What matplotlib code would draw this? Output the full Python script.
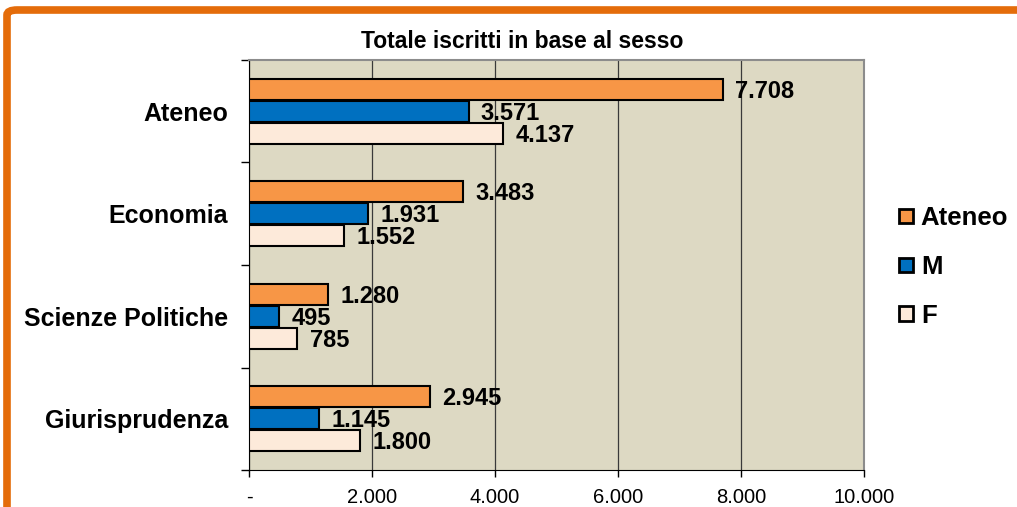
import numpy as np
import matplotlib.pyplot as plt
from matplotlib.patches import FancyBboxPatch
from matplotlib.ticker import FuncFormatter

categories = ['Ateneo', 'Economia', 'Scienze Politiche', 'Giurisprudenza']
series = ['Ateneo', 'M', 'F']
ateneo = [7708, 3483, 1280, 2945]
m_vals = [3571, 1931, 495, 1145]
f_vals = [4137, 1552, 785, 1800]
xticks = [0, 2000, 4000, 6000, 8000, 10000]

colors = ['#F79646', '#0070C0', '#FDEADA']

plt.rcParams['font.family'] = ['Liberation Sans', 'DejaVu Sans']

W, H = 1017, 507
fig = plt.figure(figsize=(W / 100, H / 100), dpi=100)

# orange frame (only top/left fully visible)
frame = FancyBboxPatch((7 / W, -6 / H), 1.2, (H - 4) / H,
                       boxstyle='round,pad=0,rounding_size=0.01',
                       transform=fig.transFigure, fill=False,
                       edgecolor='#E46C0A', linewidth=5.5, clip_on=False)
fig.patches.append(frame)

ax = fig.add_axes([249 / W, 1 - 470 / H, (864 - 249) / W, (470 - 60) / H])
ax.set_facecolor('#DDD9C3')

y = np.arange(len(categories))
h = 0.215
vals = [ateneo, m_vals, f_vals]
for i, (name, v) in enumerate(zip(series, vals)):
    pos = y + (i - 1) * h
    bars = ax.barh(pos, v, height=h * 0.97, color=colors[i], edgecolor='black',
                   linewidth=1.5, label=name, zorder=3)
    for b, val in zip(bars, v):
        ax.text(val + 200, b.get_y() + b.get_height() / 2 + 0.02,
                f'{val:,}'.replace(',', '.'), va='center', ha='left',
                fontsize=17, fontweight='bold', zorder=4)

ax.set_xlim(0, 10000)
ax.set_ylim(len(categories) - 0.5, -0.5)
ax.set_xticks(xticks)
ax.xaxis.set_major_formatter(FuncFormatter(
    lambda v, p: '-' if v == 0 else f'{int(v):,}'.replace(',', '.')))
ax.tick_params(axis='x', labelsize=14.5, length=5, width=1, pad=8)
ax.grid(axis='x', color='#3a3a3a', linewidth=0.9, zorder=1)

ax.set_yticks(y)
ax.set_yticklabels(categories, fontsize=18, fontweight='bold')
ax.tick_params(axis='y', length=0, pad=15)
ax.set_yticks(np.arange(len(categories) + 1) - 0.5, minor=True)
ax.tick_params(axis='y', which='minor', length=6, width=1)

for side in ['top', 'right']:
    ax.spines[side].set_color('#8c8c8c')
    ax.spines[side].set_linewidth(1.5)
ax.spines['left'].set_color('black')
ax.spines['bottom'].set_color('black')

fig.text(522 / W, 1 - 42 / H, 'Totale iscritti in base al sesso', fontsize=16.5,
         fontweight='bold', ha='center', va='center')

leg = ax.legend(loc='center left', bbox_to_anchor=(899 / W, 1 - 267 / H),
                bbox_transform=fig.transFigure, frameon=False,
                prop={'weight': 'bold', 'size': 18.5}, handlelength=0.55,
                handleheight=0.5, handletextpad=0.3, labelspacing=0.97,
                borderpad=0, borderaxespad=0)
for p in leg.get_patches():
    p.set_linewidth(2)

fig.savefig('out.png', dpi=100)
